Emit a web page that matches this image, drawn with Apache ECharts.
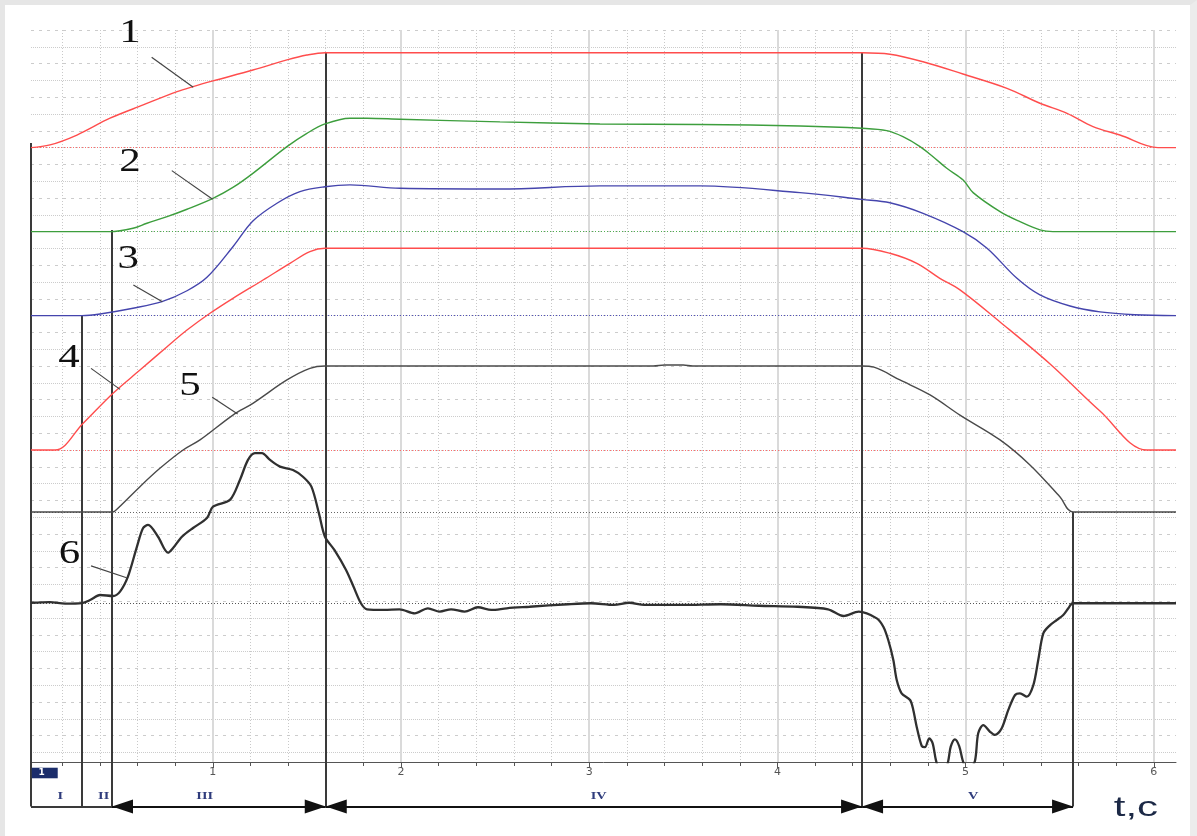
<!DOCTYPE html>
<html><head><meta charset="utf-8">
<script src="https://cdn.jsdelivr.net/npm/echarts@6.0.0/dist/echarts.min.js"></script>
<style>
html,body{margin:0;padding:0;background:#fff;}
#frame{position:absolute;left:0;top:0;width:1197px;height:836px;box-sizing:border-box;border-top:5px solid #e6e6e6;border-left:5px solid #e6e6e6;border-right:7px solid #ececec;}
#chart{position:absolute;left:0;top:0;width:1197px;height:836px;}
</style></head><body>
<div id="frame"></div>
<div id="chart"></div>
<script>
// ---- axes (time in s, vertical in grid divisions) ----
const tMin = 0.034, tMax = 6.118;
const xMajorTicks = [1, 2, 3, 4, 5, 6];
const xMinorTicks = [0.2,0.4,0.6,0.8,1.0,1.2,1.4,1.6,1.8,2.0,2.2,2.4,2.6,2.8,3.0,3.2,3.4,3.6,3.8,4.0,4.2,4.4,4.6,4.8,5.0,5.2,5.4,5.6,5.8,6.0];
const vMax = 43.571;
const yGridEven = [0,2,4,6,8,10,12,14,16,18,20,22,24,26,28,30,32,34,36,38,40,42];
const yGridOdd = [1,3,5,7,9,11,13,15,17,19,21,23,25,27,29,31,33,35,37,39,41,43];

// ---- traces [t, v] ----
const trace1 = [[0.034,36.57],[0.135,36.73],[0.278,37.32],[0.454,38.32],[0.630,39.11],[0.810,39.90],[0.895,40.20],[1.001,40.54],[1.213,41.19],[1.394,41.79],[1.500,42.08],[1.597,42.22],[4.450,42.22],[4.598,42.13],[4.774,41.68],[4.986,40.95],[5.220,40.10],[5.395,39.21],[5.539,38.61],[5.677,37.82],[5.820,37.32],[6.022,36.57],[6.118,36.57]];
const trace2 = [[0.034,31.57],[0.454,31.57],[0.576,31.77],[0.650,32.07],[0.757,32.46],[0.863,32.90],[1.001,33.55],[1.107,34.20],[1.213,35.04],[1.394,36.63],[1.500,37.42],[1.596,37.98],[1.729,38.32],[1.819,38.32],[1.995,38.26],[2.526,38.10],[3.057,37.98],[3.589,37.95],[4.120,37.86],[4.449,37.72],[4.581,37.58],[4.667,37.22],[4.758,36.63],[4.827,36.03],[4.900,35.34],[4.987,34.64],[5.040,33.89],[5.183,32.76],[5.289,32.16],[5.395,31.67],[5.464,31.57],[6.118,31.57]];
const trace3 = [[0.034,26.57],[0.305,26.57],[0.401,26.67],[0.576,27.01],[0.730,27.40],[0.863,28.05],[0.969,28.85],[1.107,30.67],[1.213,32.20],[1.341,33.26],[1.463,33.95],[1.596,34.24],[1.729,34.35],[1.995,34.15],[2.526,34.11],[3.057,34.29],[3.589,34.29],[4.120,33.89],[4.449,33.49],[4.598,33.29],[4.774,32.66],[4.986,31.57],[5.114,30.58],[5.273,28.79],[5.395,27.80],[5.555,27.14],[5.714,26.79],[5.900,26.62],[6.118,26.57]];
const trace4 = [[0.034,18.57],[0.162,18.57],[0.310,20.15],[0.470,21.95],[0.613,23.33],[0.757,24.72],[0.863,25.71],[0.985,26.71],[1.107,27.60],[1.267,28.69],[1.410,29.68],[1.516,30.38],[1.597,30.58],[4.449,30.58],[4.598,30.28],[4.741,29.68],[4.863,28.79],[4.970,28.10],[5.183,26.19],[5.449,23.69],[5.714,20.89],[5.964,18.57],[6.118,18.57]];
const trace5 = [[0.034,14.88],[0.465,14.88],[0.480,14.94],[0.613,16.39],[0.719,17.48],[0.842,18.57],[0.932,19.17],[1.107,20.65],[1.213,21.35],[1.394,22.74],[1.516,23.43],[1.597,23.57],[3.34,23.57],[3.40,23.63],[3.50,23.63],[3.55,23.57],[4.449,23.57],[4.513,23.50],[4.651,22.74],[4.811,21.85],[4.970,20.65],[5.183,19.17],[5.342,17.68],[5.502,15.77],[5.571,14.88],[6.118,14.88]];
const trace6 = [[0.034,9.48],[0.135,9.52],[0.215,9.43],[0.305,9.46],[0.348,9.64],[0.401,9.94],[0.470,9.88],[0.507,10.14],[0.549,11.03],[0.597,12.82],[0.629,13.91],[0.656,14.11],[0.709,13.41],[0.762,12.46],[0.789,12.74],[0.836,13.41],[0.895,13.93],[0.969,14.52],[1.001,15.20],[1.091,15.60],[1.144,16.79],[1.187,17.98],[1.224,18.38],[1.261,18.38],[1.304,17.98],[1.357,17.58],[1.426,17.38],[1.479,16.98],[1.524,16.39],[1.564,14.80],[1.596,13.41],[1.646,12.62],[1.708,11.43],[1.748,10.43],[1.787,9.45],[1.819,9.09],[1.910,9.05],[1.992,9.09],[2.073,8.85],[2.143,9.15],[2.206,8.95],[2.266,9.09],[2.338,8.95],[2.409,9.21],[2.480,9.05],[2.562,9.15],[2.683,9.24],[2.887,9.39],[3.009,9.45],[3.131,9.35],[3.212,9.48],[3.293,9.35],[3.497,9.35],[3.700,9.39],[3.902,9.30],[4.107,9.24],[4.269,9.09],[4.351,8.69],[4.432,8.95],[4.528,8.55],[4.563,8.05],[4.589,7.26],[4.616,6.07],[4.634,4.88],[4.660,4.09],[4.705,3.69],[4.722,3.10],[4.740,2.10],[4.767,0.95],[4.784,0.88],[4.807,1.41],[4.825,1.11],[4.843,0.08],[4.864,-0.48],[4.891,-0.48],[4.908,0.08],[4.921,0.91],[4.943,1.35],[4.966,0.95],[4.984,0.12],[4.999,-0.28],[5.023,-0.36],[5.050,0.08],[5.067,1.71],[5.094,2.20],[5.130,1.80],[5.156,1.61],[5.192,2.01],[5.227,3.10],[5.263,3.99],[5.289,4.09],[5.325,3.89],[5.360,4.58],[5.386,6.07],[5.413,7.66],[5.449,8.15],[5.484,8.45],[5.519,8.75],[5.546,9.15],[5.569,9.45],[6.118,9.45]];
const baselines = [36.57, 31.57, 26.57, 18.57, 14.88, 9.46];

// ---- phases ----
const phaseBounds = [0.034, 0.305, 0.4644, 1.600, 4.450, 5.571];
const phaseTops = [36.85, 26.55, 31.67, 42.26, 42.26, 14.88];
const phaseNames = ['I', 'II', 'III', 'IV', 'V'];
const phaseLabelT = [0.19, 0.42, 0.957, 3.05, 5.04];
const arrowSpans = [[0.4644, 1.600], [1.600, 4.450], [4.450, 5.571]];
const boxSpan = [0.034, 0.4644];

// ---- trace numbers and leaders ----
const traceNames = ['1', '2', '3', '4', '5', '6'];
const traceLabelPos = [[0.560,43.40],[0.560,35.70],[0.551,29.95],[0.236,24.05],[0.879,22.38],[0.239,12.35]];
const leaderFrom = [[0.675,41.95],[0.782,35.20],[0.578,28.39],[0.353,23.43],[0.997,21.71],[0.353,11.67]];
const leaderTo = [[0.896,40.16],[0.999,33.49],[0.732,27.40],[0.507,22.18],[1.132,20.71],[0.542,10.97]];

const colors = ['#ff4d4d', '#3d9e3d', '#4545ad', '#ff4d4d', '#4a4a4a', '#303030'];
const baseColors = ['#ff6a6a', '#4fae4f', '#5252b8', '#ff6a6a', '#666666', '#555555'];
const widths = [1.4, 1.4, 1.4, 1.4, 1.4, 2.3];
const traces = [trace1, trace2, trace3, trace4, trace5, trace6];

// arrow head: tip at the centre of its box so it ends exactly on the phase boundary
const arrowHead = 'path://M0,0M0,21L7,42L-7,42Z';

const chart = echarts.init(document.getElementById('chart'), null, {renderer: 'canvas'});

const series = traces.map((d, i) => ({
  type: 'line', xAxisIndex: 0, yAxisIndex: 0, data: d, symbol: 'none', showSymbol: false,
  smooth: i === 5 ? 0.3 : 0.35, clip: true, z: 5,
  lineStyle: {color: colors[i], width: widths[i]},
  markLine: {silent: true, symbol: 'none', label: {show: false}, animation: false,
    lineStyle: {color: baseColors[i], type: [1, 2], width: 1}, data: [{yAxis: baselines[i]}]}
}));

series.push({
  type: 'line', xAxisIndex: 0, yAxisIndex: 0, data: [], z: 8,
  markLine: {silent: true, symbol: 'none', label: {show: false}, animation: false,
    lineStyle: {color: '#3a3a3a', width: 2, type: 'solid'},
    data: phaseBounds.map((t, i) => [{coord: [t, phaseTops[i]]}, {coord: [t, 0]}])}
});
const stripIdx = series.length;
series.push({
  type: 'line', xAxisIndex: 2, yAxisIndex: 3, data: [], z: 8,
  markLine: {silent: true, symbol: 'none', label: {show: false}, animation: false,
    lineStyle: {color: '#3a3a3a', width: 2, type: 'solid'},
    data: phaseBounds.map(t => [{coord: [t, 1]}, {coord: [t, 0]}]).concat([[{coord: [boxSpan[0], 0]}, {coord: [boxSpan[1], 0]}]])}
});
series.push({
  type: 'line', xAxisIndex: 2, yAxisIndex: 3, data: [], z: 9,
  markLine: {silent: true, symbol: [arrowHead, arrowHead], symbolSize: [14, 42],
    label: {show: false}, animation: false,
    itemStyle: {color: '#111'},
    lineStyle: {color: '#111', width: 2, type: 'solid'},
    data: arrowSpans.map(s => [{coord: [s[0], 0]}, {coord: [s[1], 0]}])}
});

chart.setOption({
  animation: false,
  backgroundColor: 'transparent',
  grid: [
    {left: 31, right: 21, top: 30, bottom: 74},
    {left: 31, right: 21, top: 762, bottom: 16}
  ],
  xAxis: [
    {gridIndex: 0, type: 'value', min: tMin, max: tMax, position: 'bottom',
      axisLine: {show: true, onZero: false, lineStyle: {color: '#555', width: 1}},
      axisTick: {show: true, customValues: xMinorTicks, length: 4, lineStyle: {color: '#555'}},
      axisLabel: {show: false},
      splitLine: {show: true, lineStyle: {color: '#c9c9c9', type: [1, 2], width: 1}}},
    {gridIndex: 0, type: 'value', min: tMin, max: tMax, position: 'bottom',
      axisLine: {show: false, onZero: false},
      axisTick: {show: true, customValues: xMajorTicks, length: 6, lineStyle: {color: '#555'}},
      axisLabel: {show: true, customValues: xMajorTicks, color: '#555', fontSize: 11, margin: 5, fontFamily: 'DejaVu Sans'},
      splitLine: {show: true, lineStyle: {color: '#dadada', width: 2}}},
    {gridIndex: 1, type: 'value', min: tMin, max: tMax, show: false}
  ],
  yAxis: [
    {gridIndex: 0, type: 'value', min: 0, max: vMax, show: false},
    {gridIndex: 0, type: 'value', inverse: true, min: 0, max: vMax,
      axisLine: {show: false}, axisTick: {show: false, customValues: yGridEven}, axisLabel: {show: false},
      splitLine: {show: true, lineStyle: {color: '#cccccc', type: [3, 5], width: 1}}},
    {gridIndex: 0, type: 'value', inverse: true, min: 0, max: vMax, position: 'right',
      axisLine: {show: false}, axisTick: {show: false, customValues: yGridOdd}, axisLabel: {show: false},
      splitLine: {show: true, lineStyle: {color: '#cccccc', type: [1, 1], width: 1}}},
    {gridIndex: 1, type: 'value', min: -0.3, max: 1, show: false}
  ],
  series: series
});

// ---- annotations placed through the axes ----
const P = (t, v) => chart.convertToPixel({seriesIndex: 0}, [t, v]);
const S = (t, v) => chart.convertToPixel({seriesIndex: stripIdx}, [t, v]);
const g = [];
traceNames.forEach((n, i) => {
  const p = P(traceLabelPos[i][0], traceLabelPos[i][1]);
  g.push({type: 'text', x: p[0], y: p[1], scaleX: 1.3, z: 20,
    style: {text: n, font: '33px "Liberation Serif"', fill: '#111', align: 'center', verticalAlign: 'middle'}});
  const a = P(leaderFrom[i][0], leaderFrom[i][1]);
  const b = P(leaderTo[i][0], leaderTo[i][1]);
  g.push({type: 'line', z: 20, shape: {x1: a[0], y1: a[1], x2: b[0], y2: b[1]}, style: {stroke: '#444', lineWidth: 1.2}});
});
phaseNames.forEach((n, i) => {
  const p = S(phaseLabelT[i], 0.24);
  g.push({type: 'text', x: p[0], y: p[1], scaleX: 1.3, z: 20,
    style: {text: n, font: 'bold 11px "Liberation Serif"', fill: '#2f3c7c', align: 'center', verticalAlign: 'middle'}});
});
const b0 = S(0.038, 0.872), b1 = S(0.176, 0.635);
g.push({type: 'rect', z: 20, shape: {x: b0[0], y: b0[1], width: b1[0] - b0[0], height: b1[1] - b0[1]}, style: {fill: '#1b2d6b'}});
g.push({type: 'text', z: 21, x: (b0[0] + b1[0]) / 2 - 3, y: (b0[1] + b1[1]) / 2,
  style: {text: '1', font: 'bold 9px "DejaVu Sans"', fill: '#fff', align: 'center', verticalAlign: 'middle'}});
const tc = S(5.905, -0.03);
g.push({type: 'text', x: tc[0], y: tc[1], scaleX: 1.5, z: 20,
  style: {text: 't,c', font: '28px "Liberation Sans"', fill: '#1c2946', align: 'center', verticalAlign: 'middle'}});
chart.setOption({graphic: g});
</script>
</body></html>
